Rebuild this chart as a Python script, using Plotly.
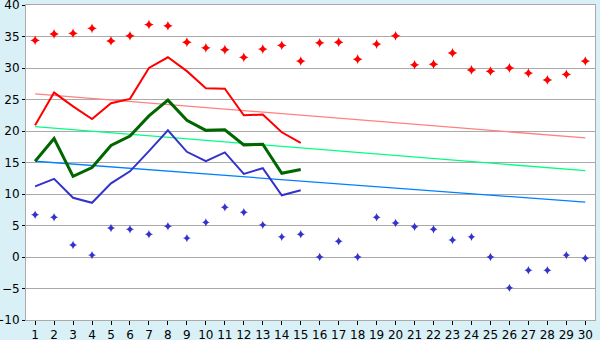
import plotly.graph_objects as go

days = list(range(1, 31))
line_days = list(range(1, 16))

max_points = [34.4, 35.4, 35.5, 36.3, 34.3, 35.1, 36.9, 36.7, 34.1, 33.2,
              32.9, 31.7, 33.0, 33.6, 31.1, 34.0, 34.1, 31.4, 33.8, 35.1,
              30.5, 30.6, 32.4, 29.7, 29.5, 30.0, 29.2, 28.1, 29.0, 31.1]
min_points = [6.7, 6.3, 1.9, 0.3, 4.6, 4.4, 3.6, 4.9, 3.0, 5.5,
              7.9, 7.1, 5.1, 3.2, 3.6, 0.0, 2.5, 0.0, 6.3, 5.4,
              4.8, 4.4, 2.7, 3.2, 0.0, -4.9, -2.1, -2.1, 0.3, -0.2]

max_line = [20.9, 26.1, 23.9, 21.9, 24.4, 25.1, 30.0, 31.7, 29.5, 26.8,
            26.7, 22.5, 22.6, 19.8, 18.1]
mean_line = [15.2, 18.8, 12.8, 14.2, 17.7, 19.2, 22.4, 24.9, 21.7, 20.1,
             20.2, 17.8, 17.9, 13.3, 13.9]
min_line = [11.2, 12.4, 9.4, 8.6, 11.7, 13.6, 16.8, 20.1, 16.7, 15.2,
            16.6, 13.2, 14.1, 9.8, 10.6]

trend_days = [1, 30]
max_trend = [25.9, 18.9]
mean_trend = [20.7, 13.7]
min_trend = [15.2, 8.7]

fig = go.Figure()
fig.add_trace(go.Scatter(x=trend_days, y=max_trend, mode="lines",
                         line=dict(color="#ff8080", width=1.3)))
fig.add_trace(go.Scatter(x=trend_days, y=mean_trend, mode="lines",
                         line=dict(color="#00ff80", width=1.3)))
fig.add_trace(go.Scatter(x=trend_days, y=min_trend, mode="lines",
                         line=dict(color="#0080ff", width=1.3)))
fig.add_trace(go.Scatter(x=line_days, y=max_line, mode="lines",
                         line=dict(color="#ff0000", width=2)))
fig.add_trace(go.Scatter(x=line_days, y=mean_line, mode="lines",
                         line=dict(color="#006600", width=3)))
fig.add_trace(go.Scatter(x=line_days, y=min_line, mode="lines",
                         line=dict(color="#3333cc", width=2)))
fig.add_trace(go.Scatter(x=days, y=max_points, mode="markers",
                         marker=dict(symbol="star-diamond", size=7, color="#ff0000",
                                     line=dict(width=0))))
fig.add_trace(go.Scatter(x=days, y=min_points, mode="markers",
                         marker=dict(symbol="star-diamond", size=6, color="#3333cc",
                                     line=dict(width=0))))

fig.update_layout(
    width=600, height=340,
    margin=dict(l=26, r=5, t=5, b=20, autoexpand=False),
    paper_bgcolor="#d9f0f7",
    plot_bgcolor="#ffffff",
    showlegend=False,
    font=dict(family="DejaVu Sans", size=12, color="#000000"),
)
fig.update_xaxes(
    range=[0.52, 30.51], tickmode="array", tickvals=days,
    ticktext=[str(d) for d in days],
    showgrid=False, zeroline=False, automargin=False,
    showline=True, linecolor="#aaaaaa", linewidth=1, mirror=True,
    ticks="outside", ticklen=4, tickcolor="#000000",
    tickfont=dict(size=12), ticklabeloverflow="allow",
)
fig.update_yaxes(
    range=[-10, 40], tickmode="array", tickvals=list(range(-10, 41, 5)),
    showgrid=True, gridcolor="#aaaaaa", gridwidth=1, zeroline=False, automargin=False,
    showline=True, linecolor="#aaaaaa", linewidth=1, mirror=True,
    ticks="outside", ticklen=3, tickcolor="#000000",
    tickfont=dict(size=12), ticklabeloverflow="allow",
)

fig.write_html("out.html", config={"displayModeBar": False},
               post_script="document.body.style.margin='0px';document.body.style.padding='0px';")
